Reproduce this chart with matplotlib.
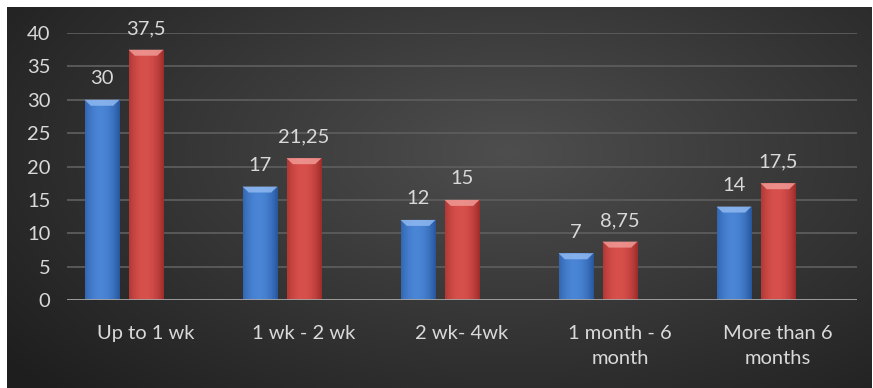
import numpy as np
import matplotlib
matplotlib.use("Agg")
import matplotlib.pyplot as plt
from matplotlib.patches import Polygon

categories = ["Up to 1 wk", "1 wk - 2 wk", "2 wk- 4wk", "1 month - 6\nmonth", "More than 6\nmonths"]
series_a = [30, 17, 12, 7, 14]
series_b = [37.5, 21.25, 15, 8.75, 17.5]
labels_a = ["30", "17", "12", "7", "14"]
labels_b = ["37,5", "21,25", "15", "8,75", "17,5"]
yticks = [0, 5, 10, 15, 20, 25, 30, 35, 40]

W, H = 873, 388
fig = plt.figure(figsize=(W / 100, H / 100), dpi=100)
fig.patch.set_facecolor("white")
plt.rcParams["font.family"] = ["Lato", "DejaVu Sans"]

# background with radial gradient
bg = fig.add_axes([7 / W, 0, 865 / W, 381 / H])
yy, xx = np.mgrid[0:1:200j, 0:1:400j]
r = np.sqrt(((xx - 0.58) / 0.75) ** 2 + ((yy - 0.62) / 0.9) ** 2)
r = np.clip(r, 0, 1)
c0 = np.array([0x4e, 0x4e, 0x4e]) / 255
c1 = np.array([0x1e, 0x1e, 0x1e]) / 255
img = c0[None, None, :] * (1 - r[..., None]) + c1[None, None, :] * r[..., None]
bg.imshow(img, aspect="auto", origin="lower", extent=[0, 1, 0, 1])
bg.set_axis_off()

ax = fig.add_axes([67 / W, 88 / H, (857 - 67) / W, 267 / H])
ax.patch.set_alpha(0)
ax.set_xlim(-0.5, 4.5)
ax.set_ylim(0, 40)

cat_px = (857 - 67) / 5
bw = 35 / cat_px
off = 44 / cat_px
x = np.arange(len(categories))
px_per_unit = 267 / 40

for yv in yticks[1:]:
    ax.axhline(yv, color="#5c5c5c", lw=1.3, zorder=1)
ax.axhline(0, color="#a6a6a6", lw=2, zorder=4)


def draw_bars(xs, vals, base, light, dark):
    bars = ax.bar(xs, vals, width=bw, color=base, zorder=3, edgecolor="none")
    grad = np.linspace(0, 1, 50)
    prof = 1 - (2 * np.abs(grad - 0.45)) ** 2
    base_c = np.array(matplotlib.colors.to_rgb(base))
    dark_c = np.array(matplotlib.colors.to_rgb(dark))
    cols = dark_c[None, :] * (1 - prof[:, None]) + base_c[None, :] * prof[:, None]
    for b, v in zip(bars, vals):
        x0 = b.get_x()
        im = ax.imshow(cols[None, :, :], extent=[x0, x0 + bw, 0, v], aspect="auto", zorder=3,
                       interpolation="bilinear")
        im.set_clip_path(b)
        bev_h = 6 / px_per_unit
        ins = bw * 0.18
        poly = Polygon([[x0, v], [x0 + bw, v], [x0 + bw - ins, v - bev_h], [x0 + ins, v - bev_h]],
                       closed=True, facecolor=light, edgecolor="none", zorder=3.5, alpha=0.85)
        ax.add_patch(poly)
    return bars


draw_bars(x - off, series_a, "#4a85d6", "#8fb8f0", "#2d5fa8")
draw_bars(x, series_b, "#d8504c", "#f09a96", "#a83330")

tc = "#d9d9d9"
fs = 14.5
for xi, v, s in zip(x - off, series_a, labels_a):
    ax.annotate(s, (xi, v), xytext=(0, 9), textcoords="offset points", ha="center", va="bottom",
                color=tc, fontsize=fs)
for xi, v, s in zip(x, series_b, labels_b):
    ax.annotate(s, (xi, v), xytext=(0, 9), textcoords="offset points", ha="center", va="bottom",
                color=tc, fontsize=fs)

ax.set_yticks(yticks)
ax.set_yticklabels([str(t) for t in yticks])
ax.set_xticks(x)
ax.set_xticklabels(categories, linespacing=1.6)
ax.tick_params(axis="y", length=0, pad=12, labelsize=fs, labelcolor=tc)
ax.tick_params(axis="x", length=0, pad=18, labelsize=fs, labelcolor=tc)
for s in ax.spines.values():
    s.set_visible(False)

fig.savefig("out.png", dpi=100, facecolor=fig.get_facecolor())
